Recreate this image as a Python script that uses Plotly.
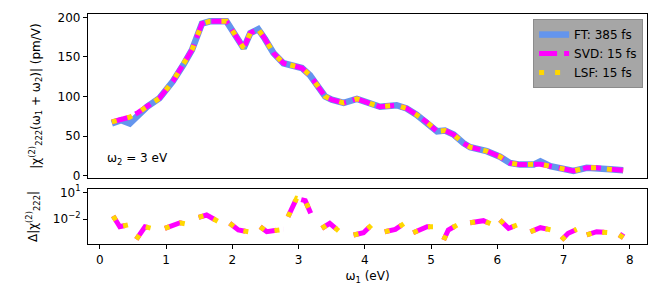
import plotly.graph_objects as go
from plotly.subplots import make_subplots

# ---- data ----
omega1 = [0.18, 0.32, 0.45, 0.58, 0.71, 0.90, 1.10, 1.26, 1.39, 1.54, 1.66, 1.91, 2.02, 2.17,
          2.27, 2.39, 2.49, 2.62, 2.77, 2.92, 3.05, 3.17, 3.27, 3.40, 3.50, 3.68, 3.88, 4.03,
          4.23, 4.48, 4.63, 4.78, 4.93, 5.09, 5.21, 5.34, 5.49, 5.59, 5.84, 6.04, 6.19, 6.34,
          6.55, 6.65, 6.80, 7.00, 7.15, 7.35, 7.50, 7.70, 7.90]
chi_ft = [66, 70, 66, 78, 87, 98, 119, 140, 159, 192, 195, 195, 180, 161,
          180, 185, 173, 155, 142, 138, 136, 127, 115, 100, 96, 92, 97, 92,
          87, 89, 85, 77, 68, 56, 57, 52, 41, 36, 31, 24, 16, 14,
          14, 18, 12, 8, 6, 10, 10, 8, 7]
chi_svd = [68, 71, 74, 80, 87, 98, 119, 140, 159, 192, 195, 195, 180, 161,
           180, 185, 173, 155, 142, 138, 136, 127, 115, 100, 96, 92, 97, 92,
           87, 89, 85, 77, 68, 56, 57, 52, 41, 36, 31, 24, 16, 14,
           14, 14.5, 12, 8, 6, 10, 10, 8, 7]
chi_lsf = list(chi_svd)

delta_x = [0.20, 0.30, 0.48, None, 0.55, 0.68, 0.78, None, 0.98, 1.21, 1.33, None,
           1.49, 1.61, 1.79, None, 1.96, 2.09, 2.24, None, 2.42, 2.52, 2.77, None,
           2.84, 2.97, 3.10, 3.20, None, 3.35, 3.47, 3.62, None, 3.83, 3.98, 4.10, None,
           4.30, 4.46, 4.61, None, 4.73, 4.94, 5.06, None, 5.19, 5.26, 5.41, None,
           5.59, 5.79, 5.92, None, 6.04, 6.17, 6.32, None, 6.50, 6.65, 6.82, None,
           6.97, 7.07, 7.20, None, 7.35, 7.50, 7.68, None, 7.85, 7.90]
delta_svd = [2.2e-2, 1.35e-3, 2.75e-3, None, 5.2e-5, 1.35e-3, 8.9e-4, None, 8.9e-4, 3.8e-3, 2.5e-3, None,
             1.55e-2, 2.8e-2, 5.0e-3, None, 3.3e-3, 5.8e-4, 3.7e-4, None, 1.35e-3, 3.7e-4, 6.9e-4, None,
             1.8e-2, 2.1, 1.15, 2.2e-2, None, 8.9e-4, 3.3e-3, 3.7e-4, None, 1.6e-4, 2.9e-4, 2.1e-3, None,
             3.7e-4, 6.9e-4, 3.8e-3, None, 2.9e-4, 1.35e-3, 1.35e-3, None, 4.4e-5, 5.8e-4, 2.5e-3, None,
             3.8e-3, 6.5e-3, 2.5e-3, None, 7.8e-3, 8.9e-4, 2.5e-3, None, 3.7e-4, 1.05e-3, 5.8e-4, None,
             4.4e-5, 2.5e-4, 6.9e-4, None, 1.6e-4, 3.7e-4, 2.9e-4, None, 6.8e-5, 2.5e-4]
delta_lsf = list(delta_svd)

series_names = ["FT: 385 fs", "SVD: 15 fs", "LSF: 15 fs"]
x_ticks = [0, 1, 2, 3, 4, 5, 6, 7, 8]
top_yticks = [0, 50, 100, 150, 200]
bottom_yticks = [10, 0.01]
bottom_yticktext = ["10<sup>1</sup>", "10<sup>−2</sup>"]

FONT = "DejaVu Sans, Liberation Sans, sans-serif"
BLUE, MAGENTA, GOLD = "#6495ED", "#FF00FF", "#FFD700"

fig = make_subplots(rows=2, cols=1, shared_xaxes=True)

fig.add_trace(go.Scatter(x=omega1, y=chi_ft, mode="lines", name=series_names[0],
                         line=dict(color=BLUE, width=6.5)), row=1, col=1)
fig.add_trace(go.Scatter(x=omega1, y=chi_svd, mode="lines", name=series_names[1],
                         line=dict(color=MAGENTA, width=5, dash="18px,7px")), row=1, col=1)
fig.add_trace(go.Scatter(x=omega1, y=chi_lsf, mode="lines", name=series_names[2],
                         line=dict(color=GOLD, width=5, dash="5px,11px")), row=1, col=1)

fig.add_trace(go.Scatter(x=delta_x, y=delta_svd, mode="lines", showlegend=False,
                         connectgaps=False,
                         line=dict(color=MAGENTA, width=5, dash="18px,7px")), row=2, col=1)
fig.add_trace(go.Scatter(x=delta_x, y=delta_lsf, mode="lines", showlegend=False,
                         connectgaps=False,
                         line=dict(color=GOLD, width=5, dash="5px,11px")), row=2, col=1)

axis_common = dict(showline=True, linecolor="black", linewidth=1.2, mirror=True,
                   showgrid=False, zeroline=False, ticks="outside", ticklen=4,
                   tickwidth=1, tickcolor="black", automargin=False,
                   tickfont=dict(family=FONT, size=12, color="black"))

fig.update_xaxes(range=[-0.18, 8.26], domain=[0, 1], **axis_common)
fig.update_xaxes(row=1, col=1, ticks="", showticklabels=False)
fig.update_xaxes(row=2, col=1, tickvals=x_ticks,
                 title=dict(text="ω<sub>1</sub> (eV)", font=dict(family=FONT, size=12, color="black"),
                            standoff=6))

fig.update_yaxes(row=1, col=1, range=[-2.9, 204.2], domain=[0.287, 1.0], tickvals=top_yticks,
                 title=dict(text="|χ<sup>(2)</sup><sub>222</sub>(ω<sub>1</sub> + ω<sub>2</sub>)| (pm/V)",
                            font=dict(family=FONT, size=12, color="black"), standoff=14),
                 **axis_common)
fig.update_yaxes(row=2, col=1, type="log", range=[-4.81, 1.37], domain=[0, 0.239],
                 tickvals=bottom_yticks, ticktext=bottom_yticktext,
                 title=dict(text="Δ|χ<sup>(2)</sup><sub>222</sub>|",
                            font=dict(family=FONT, size=12, color="black"), standoff=12),
                 **axis_common)

fig.add_annotation(text="ω<sub>2</sub> = 3 eV", xref="x", yref="y", x=0.08, y=8,
                   xanchor="left", yanchor="bottom", showarrow=False,
                   font=dict(family=FONT, size=12, color="black"))

fig.update_layout(
    width=659, height=303,
    margin=dict(l=88, r=12, t=14, b=59, autoexpand=False),
    paper_bgcolor="white", plot_bgcolor="white",
    font=dict(family=FONT, size=12, color="black"),
    legend=dict(x=0.993, y=0.978, xanchor="right", yanchor="top",
                bgcolor="#a6a6a6", bordercolor="#8c8c8c", borderwidth=1,
                font=dict(family=FONT, size=12, color="black"),
                itemwidth=30, tracegroupgap=0),
    showlegend=True,
)

fig.write_html("out.html", config={"displayModeBar": False},
               post_script="document.body.style.margin='0';")
